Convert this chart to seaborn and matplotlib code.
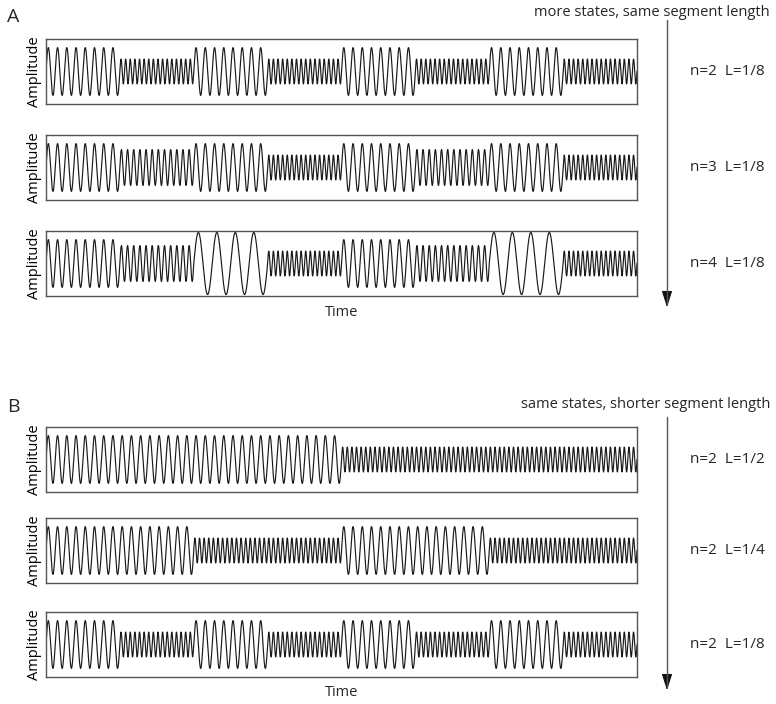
import numpy as np
import pandas as pd
import matplotlib
matplotlib.use("Agg")
import matplotlib.pyplot as plt
from matplotlib.patches import FancyArrowPatch
import seaborn as sns

# ---- data ----
# oscillation states: cycles per 1/8 of the time axis, and amplitude
state_cycles_per_eighth = {1: 8, 2: 16, 3: 12, 4: 4}
state_amplitude = {1: 1.0, 2: 0.52, 3: 0.75, 4: 1.3}

# state sequences for each panel (each entry is one segment)
seq_A1 = [1, 2, 1, 2, 1, 2, 1, 2]
seq_A2 = [1, 3, 1, 2, 1, 3, 1, 2]
seq_A3 = [1, 3, 4, 2, 1, 3, 4, 2]
seq_B1 = [1, 2]
seq_B2 = [1, 2, 1, 2]
seq_B3 = [1, 2, 1, 2, 1, 2, 1, 2]

labels_A = ["n=2  L=1/8", "n=3  L=1/8", "n=4  L=1/8"]
labels_B = ["n=2  L=1/2", "n=2  L=1/4", "n=2  L=1/8"]
title_A = "more states, same segment length"
title_B = "same states, shorter segment length"

sns.set_theme(style="white")
plt.rcParams["font.family"] = ["Open Sans", "DejaVu Sans"]

W, H = 776, 704
fig = plt.figure(figsize=(W / 100, H / 100), dpi=100)

def build_signal(seq, n=12000):
    t = np.linspace(0, 1, n)
    nseg = len(seq)
    idx = np.minimum((t * nseg).astype(int), nseg - 1)
    cyc = np.array([state_cycles_per_eighth[seq[i]] * 8 for i in idx])
    amp = np.array([state_amplitude[seq[i]] for i in idx])
    y = amp * np.sin(2 * np.pi * cyc * t)
    return pd.DataFrame({"Time": t, "Amplitude": y})

X0, X1 = 46, 637
PH = 65

def panel(seq, top):
    ax = fig.add_axes([X0 / W, 1 - (top + PH) / H, (X1 - X0) / W, PH / H])
    df = build_signal(seq)
    sns.lineplot(data=df, x="Time", y="Amplitude", ax=ax, color="#1a1a1a",
                 linewidth=0.85, sort=False, estimator=None)
    ax.set_xlim(0, 1)
    ax.set_ylim(-1.36, 1.36)
    ax.set_xticks([])
    ax.set_yticks([])
    ax.set_xlabel("")
    ax.set_ylabel("Amplitude", fontsize=10.5, color="black", labelpad=3)
    for s in ax.spines.values():
        s.set_color("#555555")
        s.set_linewidth(1.0)
    return ax

tops_A = [39, 135, 231]
tops_B = [427, 518, 612]
axes_A = [panel(s, t) for s, t in zip([seq_A1, seq_A2, seq_A3], tops_A)]
axes_B = [panel(s, t) for s, t in zip([seq_B1, seq_B2, seq_B3], tops_B)]

ov = fig.add_axes([0, 0, 1, 1], facecolor="none")
ov.set_xlim(0, W)
ov.set_ylim(H, 0)
ov.axis("off")

fs = 11
ov.text(7, 17, "A", fontsize=14, va="center", ha="left")
ov.text(7, 407, "B", fontsize=14, va="center", ha="left")
ov.text(770, 12, title_A, fontsize=10.5, ha="right", va="center")
ov.text(770, 404, title_B, fontsize=10.5, ha="right", va="center")
for lab, t in zip(labels_A, tops_A):
    ov.text(690, t + PH / 2, lab, fontsize=fs, ha="left", va="center")
for lab, t in zip(labels_B, tops_B):
    ov.text(690, t + PH / 2, lab, fontsize=fs, ha="left", va="center")
ov.text((X0 + X1) / 2, 312, "Time", fontsize=10.5, ha="center", va="center")
ov.text((X0 + X1) / 2, 693, "Time", fontsize=10.5, ha="center", va="center")

for y0, y1 in [(20, 310), (417, 693)]:
    ov.plot([667, 667], [y0, y1 - 6], color="#555555", lw=1.0)
    ar = FancyArrowPatch((667, y1 - 14), (667, y1),
                         arrowstyle="-|>,head_length=10,head_width=3.2",
                         color="#111111", lw=0.8, mutation_scale=1)
    ov.add_patch(ar)

fig.savefig("out.png", dpi=100)
